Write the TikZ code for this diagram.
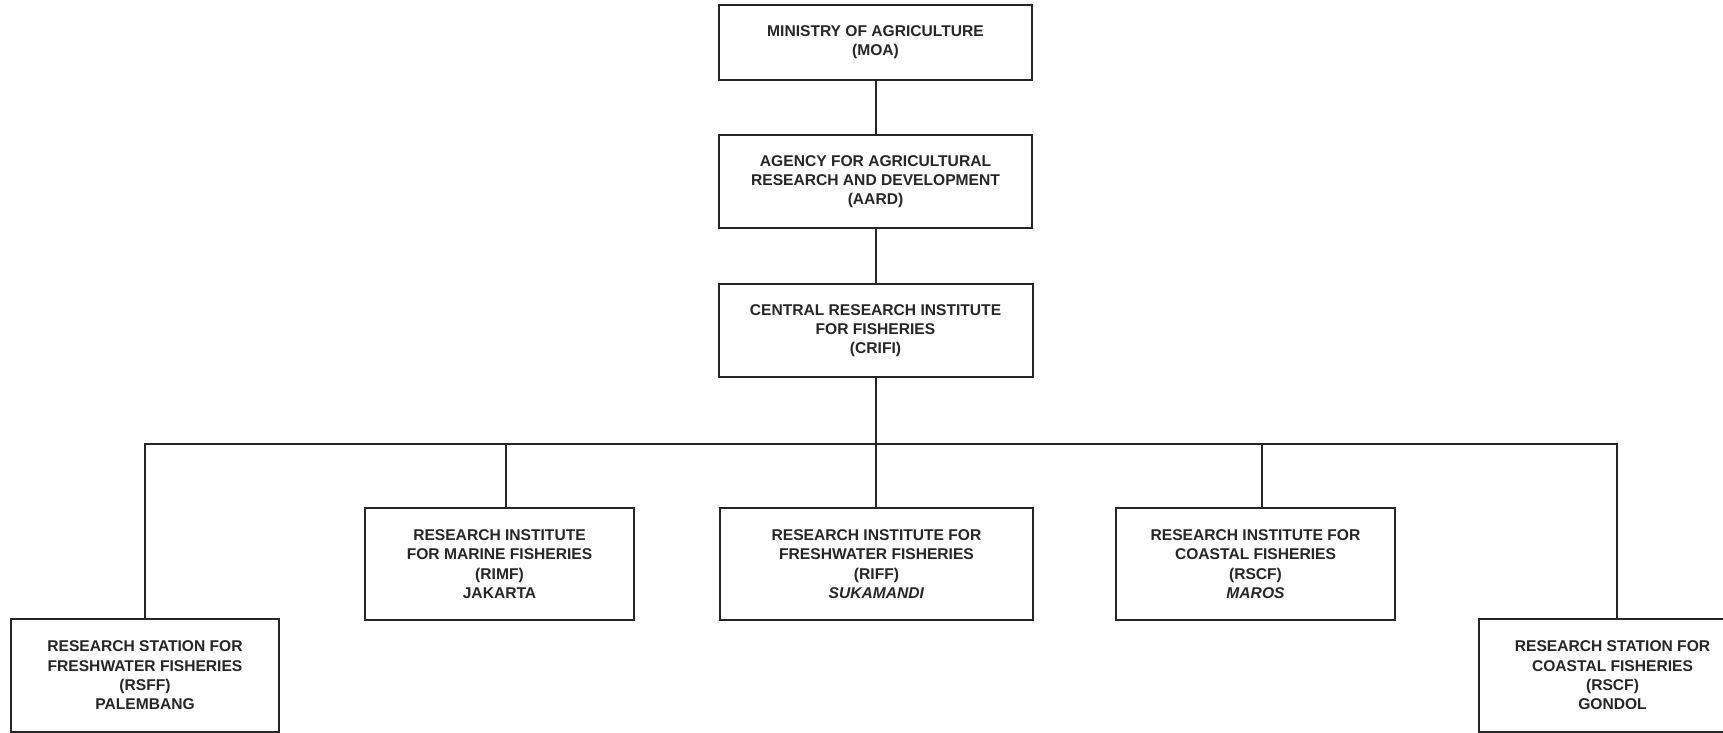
\documentclass[tikz,border=0pt]{standalone}
\usepackage{fontspec}
\setmainfont{Liberation Sans}
\newcommand\orgboxfont{\bfseries\fontsize{15.6}{19.3}\selectfont}
\begin{document}
\begin{tikzpicture}[x=1pt,y=-1pt,
  orgbox/.style={draw=black!85, line width=2pt, align=center, font=\orgboxfont,
                 text=black!85, inner sep=0pt, fill=white},
  link/.style={draw=black!85, line width=1.6pt}]
\useasboundingbox (0,0) rectangle (1723,733);
\clip (0,0) rectangle (1723,733);
\fill[white] (0,0) rectangle (1723,733);

\node[orgbox, minimum width=313pt, minimum height=75pt] (moa) at (875.5,42.5)
  {MINISTRY OF AGRICULTURE\\(MOA)};
\node[orgbox, minimum width=313pt, minimum height=93pt] (aard) at (875.5,181.5)
  {AGENCY FOR AGRICULTURAL\\RESEARCH AND DEVELOPMENT\\(AARD)};
\node[orgbox, minimum width=314pt, minimum height=93pt] (crifi) at (875.5,330.5)
  {CENTRAL RESEARCH INSTITUTE\\FOR FISHERIES\\(CRIFI)};

\node[orgbox, minimum width=268pt, minimum height=113pt] (rsff) at (145,675.5)
  {RESEARCH STATION FOR\\FRESHWATER FISHERIES\\(RSFF)\\PALEMBANG};
\node[orgbox, minimum width=269pt, minimum height=112pt] (rimf) at (499.5,564)
  {RESEARCH INSTITUTE\\FOR MARINE FISHERIES\\(RIMF)\\JAKARTA};
\node[orgbox, minimum width=313pt, minimum height=112pt] (riff) at (876.5,564)
  {RESEARCH INSTITUTE FOR\\FRESHWATER FISHERIES\\(RIFF)\\\textit{SUKAMANDI}};
\node[orgbox, minimum width=279pt, minimum height=112pt] (maros) at (1255.5,564)
  {RESEARCH INSTITUTE FOR\\COASTAL FISHERIES\\(RSCF)\\\textit{MAROS}};
\node[orgbox, minimum width=267pt, minimum height=113pt] (gondol) at (1612.5,675.5)
  {RESEARCH STATION FOR\\COASTAL FISHERIES\\(RSCF)\\GONDOL};

\coordinate (bus) at (876,444);
\coordinate (jl) at (145,444);
\coordinate (j2) at (506,444);
\coordinate (j4) at (1262,444);
\coordinate (jr) at (1617,444);

\draw[link] (moa.south -| bus) -- (aard.north -| bus);
\draw[link] (aard.south -| bus) -- (crifi.north -| bus);
\draw[link] (crifi.south -| bus) -- (bus) -- (riff.north -| bus);
\draw[link] (rsff.north -| jl) -- (jl) -- (jr) -- (jr |- gondol.north);
\draw[link] (j2) -- (j2 |- rimf.north);
\draw[link] (j4) -- (j4 |- maros.north);
\end{tikzpicture}
\end{document}
